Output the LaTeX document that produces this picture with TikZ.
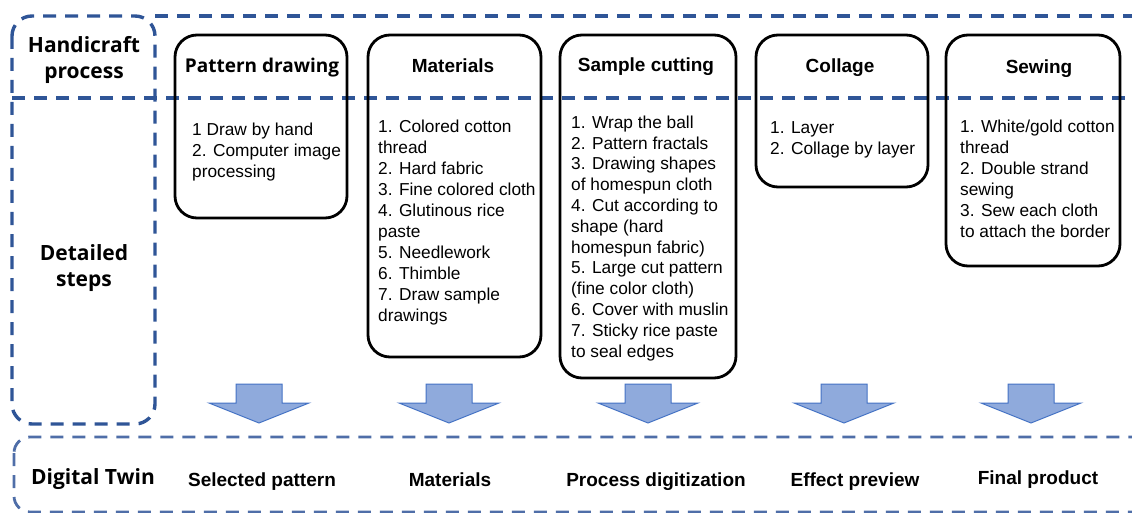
\documentclass[tikz,border=0pt]{standalone}
\usepackage{fontspec}
\setmainfont{Liberation Sans}
\newfontfamily\headfont{Open Sans}
\usetikzlibrary{positioning}
\definecolor{dashblue}{HTML}{2F5597}
\definecolor{bandblue}{HTML}{4F6EA8}
\definecolor{arrowfill}{HTML}{8FAADC}
\definecolor{arrowline}{HTML}{4472C4}
\tikzset{
  frameline/.style={draw=dashblue, line width=3.4pt, dash pattern=on 13pt off 9pt},
  bandline/.style={draw=bandblue, line width=2.8pt, dash pattern=on 13pt off 9pt},
  stepbox/.style={draw=black, line width=2.8pt, rounded corners=22pt, inner sep=0pt},
  boxtitle/.style={anchor=base, inner sep=0pt, font=\fontsize{19}{23}\selectfont\bfseries},
  boxbody/.style={anchor=north west, inner sep=0pt, align=left, font=\fontsize{17.3}{21}\selectfont},
  rowlabel/.style={inner sep=0pt, align=center, font=\headfont\fontsize{21}{26}\selectfont\bfseries},
  twinlabel/.style={anchor=base, inner sep=0pt, font=\fontsize{19}{23}\selectfont\bfseries},
  downarrow/.pic={
    \draw[fill=arrowfill, draw=arrowline, line width=1pt, line join=miter]
      (-23,0) -- (23,0) -- (23,19) -- (50,19) -- (0,39) -- (-50,19) -- (-23,19) -- cycle;
  }
}
\begin{document}
\begin{tikzpicture}[x=1pt, y=-1pt]
\useasboundingbox (0,0) rectangle (1132,513);
\clip (0,0) rectangle (1132,513);

% dashed frame of the handicraft rows
\draw[frameline, rounded corners=20pt] (12,16) rectangle (155,424);
\draw[frameline] (155,16) -- (1140,16);
\draw[frameline] (12,98) -- (1140,98);

% dashed band of the digital twin row
\draw[bandline, rounded corners=16pt] (14,437) rectangle (1170,512);

% row labels
\node[rowlabel] (hp) at (84,60) {Handicraft\\process};
\node[rowlabel] (ds) at (84,268) {Detailed\\steps};
\node[rowlabel] (dt) at (93,479) {Digital Twin};

% process step boxes
\node[stepbox, minimum width=172pt, minimum height=183pt] (b1) at (261,126.5) {};
\node[stepbox, minimum width=173pt, minimum height=322pt] (b2) at (454.5,196) {};
\node[stepbox, minimum width=176pt, minimum height=343pt] (b3) at (648,206.5) {};
\node[stepbox, minimum width=172pt, minimum height=152pt] (b4) at (842,111) {};
\node[stepbox, minimum width=174pt, minimum height=231pt] (b5) at (1033,150.5) {};

% titles
\node[boxtitle, font=\headfont\fontsize{19}{23}\selectfont\bfseries] (t1) at (262,73) {Pattern drawing};
\node[boxtitle] (t2) at (453,73) {Materials};
\node[boxtitle] (t3) at (646,72) {Sample cutting};
\node[boxtitle] (t4) at (840,73) {Collage};
\node[boxtitle] (t5) at (1039,74) {Sewing};

% detailed steps
\node[boxbody] (s1) at (192,122.5) {1 Draw by hand\\2. Computer image\\processing};
\node[boxbody] (s2) at (378,119.5) {1. Colored cotton\\thread\\2. Hard fabric\\3. Fine colored cloth\\4. Glutinous rice\\paste\\5. Needlework\\6. Thimble\\7. Draw sample\\drawings};
\node[boxbody, font=\fontsize{17.3}{20.8}\selectfont] (s3) at (571,115.5) {1. Wrap the ball\\2. Pattern fractals\\3. Drawing shapes\\of homespun cloth\\4. Cut according to\\shape (hard\\homespun fabric)\\5. Large cut pattern\\(fine color cloth)\\6. Cover with muslin\\7. Sticky rice paste\\to seal edges};
\node[boxbody] (s4) at (770,121.5) {1. Layer\\2. Collage by layer};
\node[boxbody] (s5) at (960,119.5) {1. White/gold cotton\\thread\\2. Double strand\\sewing\\3. Sew each cloth\\to attach the border};

% block arrows down to the digital twin row
\pic at (259,384) {downarrow};
\pic at (449,384) {downarrow};
\pic at (648,384) {downarrow};
\pic at (844,384) {downarrow};
\pic at (1031,384) {downarrow};

% digital twin outcomes
\node[twinlabel] (d1) at (262,486) {Selected pattern};
\node[twinlabel] (d2) at (450,486) {Materials};
\node[twinlabel] (d3) at (656,486) {Process digitization};
\node[twinlabel] (d4) at (855,486) {Effect preview};
\node[twinlabel] (d5) at (1038,484) {Final product};
\end{tikzpicture}
\end{document}
